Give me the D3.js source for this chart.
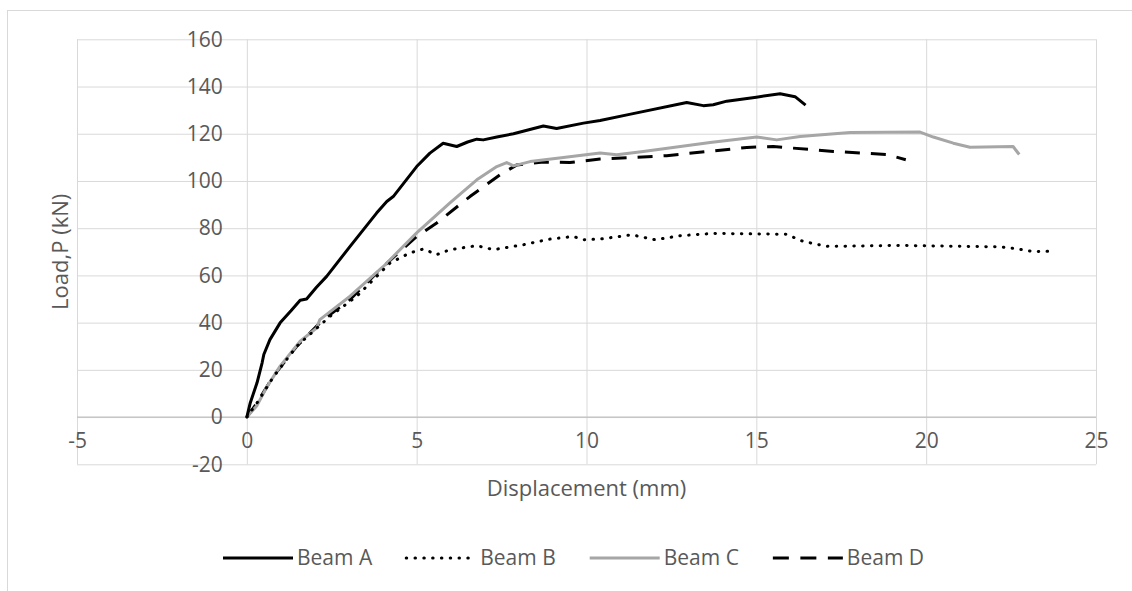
<!DOCTYPE html>
<html>
  <head>
    <meta charset="utf-8">
    <title>Load vs Displacement</title>
    <script src="https://d3js.org/d3.v7.min.js"></script>
    <style>
      body {
        margin: 0;
        background: #fff;
      }
      text {
        font-family: "Open Sans", sans-serif;
        fill: #595959;
      }
    </style>
  </head>
  <body>
    <div id="chart"></div>

    <script>
      // Data: [displacement mm, load kN]
      const beamA = [[0,0],[0.1,6],[0.3,14.5],[0.45,23],[0.5,26.5],[0.68,32.8],[0.98,39.9],[1.3,45],[1.57,49.5],[1.76,50],[2.05,55],[2.35,59.6],[3.04,72.3],[3.82,86.4],[4.12,91.3],[4.31,93.4],[5.0,106.1],[5.39,111.8],[5.78,116],[6.18,114.6],[6.5,116.5],[6.77,117.7],[6.96,117.4],[7.36,118.6],[7.85,120],[8.73,123.3],[9.12,122.2],[9.91,124.5],[10.4,125.6],[11.3,128.3],[12.95,133.2],[13.44,131.9],[13.73,132.3],[14.13,133.8],[15.0,135.5],[15.7,136.9],[16.14,135.7],[16.45,132.1]];
      const beamB = [[0,0],[0.3,6],[0.78,17],[1.47,30],[2.45,42.7],[3.24,51.2],[4.22,65.3],[4.8,69.5],[5.2,71.2],[5.59,68.8],[5.98,70.9],[6.77,72.6],[7.26,70.9],[8.14,73],[8.93,75.4],[9.61,76.5],[9.91,75.1],[10.4,75.4],[11.33,77.2],[12.02,75.1],[12.75,76.8],[13.73,77.8],[15.89,77.4],[16.38,74.4],[17.07,72.3],[19.23,72.7],[22.18,72.1],[22.66,71.3],[23.15,70.1],[23.64,70.2]];
      const beamC = [[0,0],[0.29,4.7],[0.6,13],[0.98,21.6],[1.57,32.1],[2.06,37.8],[2.15,41.3],[3.04,51.2],[4.02,63.8],[5.0,78],[5.98,90.7],[6.77,100.5],[7.36,106.1],[7.65,107.8],[7.85,106.4],[8.34,108.2],[9.32,109.9],[10.4,111.8],[10.89,111.1],[11.67,112.5],[13.64,116.3],[15.01,118.6],[15.6,117.4],[16.29,118.8],[17.76,120.5],[19.82,120.7],[20.21,118.6],[20.8,116],[21.29,114.3],[22.56,114.6],[22.74,111.2]];
      const beamD = [[0,0],[0.3,6],[0.78,17.3],[1.47,30],[2.25,41.3],[3.04,49.8],[4.02,63.8],[5.0,76.5],[5.59,82.2],[6.57,93.4],[7.45,102.6],[7.95,106.8],[8.73,108],[9.51,107.8],[10.4,109.3],[12.36,110.7],[14.72,114.2],[15.5,114.6],[17.27,112.5],[18.84,111.2],[19.4,109]];

      const seriesNames = ["Beam A", "Beam B", "Beam C", "Beam D"];
      const xTicks = [-5, 0, 5, 10, 15, 20, 25];
      const yTicks = [-20, 0, 20, 40, 60, 80, 100, 120, 140, 160];

      const W = 1132, H = 591;
      // plot area
      const plotL = 77, plotR = 1096, plotT = 39.3, plotB = 464.3;

      const svg = d3.select("#chart").append("svg")
        .attr("width", W)
        .attr("height", H);

      // outer chart border
      svg.append("rect")
        .attr("x", 7.5).attr("y", 10.5)
        .attr("width", W + 20).attr("height", H + 20)
        .attr("fill", "none")
        .attr("stroke", "#d9d9d9");

      const x = d3.scaleLinear().domain([-5, 25]).range([plotL, plotR]);
      const y = d3.scaleLinear().domain([-20, 160]).range([plotB, plotT]);

      // gridlines
      svg.append("g")
        .attr("transform", `translate(${plotL},0)`)
        .call(d3.axisLeft(y).tickValues(yTicks).tickSize(-(plotR - plotL)).tickFormat(""))
        .call(g => g.select(".domain").remove())
        .call(g => g.selectAll("line").attr("stroke", "#d9d9d9"));

      svg.append("g")
        .attr("transform", `translate(0,${plotB})`)
        .call(d3.axisBottom(x).tickValues(xTicks).tickSize(-(plotB - plotT)).tickFormat(""))
        .call(g => g.select(".domain").remove())
        .call(g => g.selectAll("line").attr("stroke", "#d9d9d9"));

      // horizontal axis line at load = 0
      svg.append("line")
        .attr("x1", plotL).attr("x2", plotR)
        .attr("y1", y(0)).attr("y2", y(0))
        .attr("stroke", "#bfbfbf")
        .attr("stroke-width", 1.3);

      // tick labels sit next to the axes that cross at 0 (plain hyphen like Excel)
      const fmt = d => String(d);

      svg.append("g")
        .attr("transform", `translate(${x(0) - 16},0)`)
        .call(d3.axisLeft(y).tickValues(yTicks).tickSize(0).tickPadding(8).tickFormat(fmt))
        .call(g => g.select(".domain").remove())
        .call(g => g.selectAll("text")
          .style("font-size", "21px")
          .style("font-family", "Open Sans")
          .attr("fill", "#595959"));

      svg.append("g")
        .attr("transform", `translate(0,${y(0) + 20})`)
        .call(d3.axisBottom(x).tickValues(xTicks).tickSize(0).tickPadding(0).tickFormat(fmt))
        .call(g => g.select(".domain").remove())
        .call(g => g.selectAll("text")
          .attr("dy", "0.5em")
          .style("font-size", "21px")
          .style("font-family", "Open Sans")
          .attr("fill", "#595959"));

      // axis titles
      svg.append("text")
        .attr("x", (plotL + plotR) / 2)
        .attr("y", 496)
        .attr("text-anchor", "middle")
        .style("font-size", "22px")
        .text("Displacement (mm)");

      svg.append("text")
        .attr("transform", `translate(68,${(plotT + plotB) / 2}) rotate(-90)`)
        .attr("text-anchor", "middle")
        .style("font-size", "22px")
        .text("Load,P (kN)");

      const styles = [
        { color: "#000", dash: null, cap: "butt" },
        { color: "#000", dash: "0.5,8.3", cap: "round" },
        { color: "#a6a6a6", dash: null, cap: "butt" },
        { color: "#000", dash: "15,11", cap: "butt" }
      ];
      const allData = [beamA, beamB, beamC, beamD];

      const line = d3.line()
        .x(d => x(d[0]))
        .y(d => y(d[1]))
        .curve(d3.curveLinear);

      // draw back to front: D, C, B, A
      [3, 2, 1, 0].forEach(i => {
        svg.append("path")
          .datum(allData[i])
          .attr("d", line)
          .attr("fill", "none")
          .attr("stroke", styles[i].color)
          .attr("stroke-width", 3)
          .attr("stroke-linejoin", "round")
          .attr("stroke-linecap", styles[i].cap)
          .attr("stroke-dasharray", styles[i].dash);
      });

      // legend
      const legY = 558;
      let lx = 223;
      seriesNames.forEach((name, i) => {
        svg.append("line")
          .attr("x1", lx).attr("x2", lx + 70)
          .attr("y1", legY).attr("y2", legY)
          .attr("stroke", styles[i].color)
          .attr("stroke-width", 3)
          .attr("stroke-linecap", styles[i].cap)
          .attr("stroke-dasharray", i == 3 ? "16,11.5" : styles[i].dash);
        const t = svg.append("text")
          .attr("x", lx + 74)
          .attr("y", legY)
          .attr("dy", "0.35em")
          .style("font-size", "21px")
          .text(name);
        lx = lx + 74 + t.node().getComputedTextLength() + 34;
      });
    </script>
  </body>
</html>
